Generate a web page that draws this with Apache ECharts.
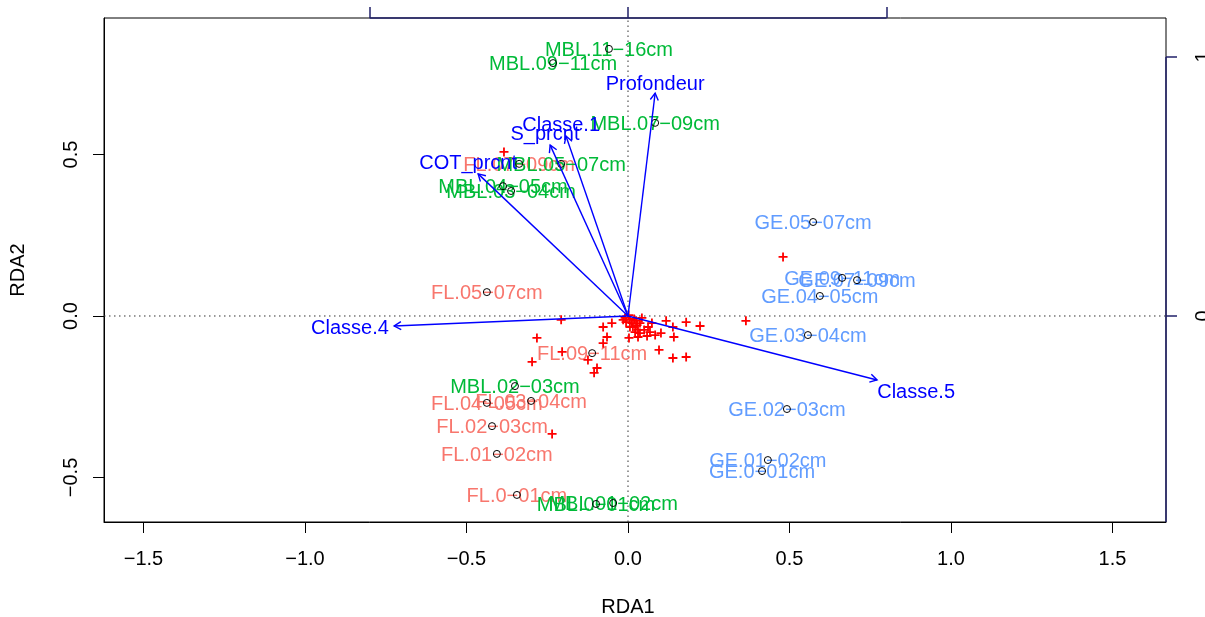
<!DOCTYPE html>
<html>
<head>
<meta charset="utf-8">
<script src="https://cdn.jsdelivr.net/npm/echarts/dist/echarts.min.js"></script>
<style>html,body{margin:0;padding:0;background:#fff}#chart{width:1205px;height:617px}</style>
</head>
<body>
<div id="chart"></div>
<script>
// ---------- data ----------
const flNames = ['FL.0−01cm','FL.01−02cm','FL.02−03cm','FL.03−04cm','FL.04−05cm','FL.05−07cm','FL.07−09cm','FL.09−11cm'];
const flX = [-0.344,-0.406,-0.421,-0.300,-0.437,-0.437,-0.337,-0.111];
const flY = [-0.554,-0.427,-0.341,-0.263,-0.269,0.074,0.471,-0.115];

const geNames = ['GE.0−01cm','GE.01−02cm','GE.02−03cm','GE.03−04cm','GE.04−05cm','GE.05−07cm','GE.07−09cm','GE.09−11cm'];
const geX = [0.415,0.433,0.492,0.557,0.594,0.573,0.709,0.663];
const geY = [-0.480,-0.446,-0.288,-0.059,0.062,0.291,0.111,0.118];

const mblNames = ['MBL.0−01cm','MBL.01−02cm','MBL.02−03cm','MBL.03−04cm','MBL.04−05cm','MBL.05−07cm','MBL.07−09cm','MBL.09−11cm','MBL.11−16cm'];
const mblX = [-0.099,-0.046,-0.350,-0.362,-0.387,-0.207,0.084,-0.232,-0.059];
const mblY = [-0.582,-0.579,-0.217,0.387,0.402,0.471,0.598,0.783,0.827];

const spX = [-0.384,0.480,0.365,-0.207,-0.282,-0.297,-0.204,-0.124,-0.096,-0.105,-0.235,-0.050,-0.077,-0.065,-0.077,-0.015,0.002,0.006,0.012,0.015,0.028,0.037,0.031,0.022,0.006,0.043,0.050,0.062,0.074,0.068,0.059,0.037,0.003,0.031,0.084,0.102,0.118,0.139,0.180,0.223,0.142,0.096,0.139,0.180,-0.009,0.019,-0.006,0.025];
const spY = [0.508,0.183,-0.015,-0.012,-0.068,-0.142,-0.111,-0.136,-0.161,-0.176,-0.365,-0.022,-0.034,-0.065,-0.084,-0.012,0.003,-0.012,-0.022,-0.034,-0.028,-0.022,-0.043,-0.050,-0.034,-0.006,-0.043,-0.034,-0.022,-0.050,-0.062,-0.053,-0.068,-0.065,-0.059,-0.053,-0.015,-0.034,-0.019,-0.031,-0.065,-0.105,-0.130,-0.127,-0.006,-0.009,-0.019,-0.015];

const envNames = ['Profondeur','Classe.1','S_prcnt','COT_prcnt','Classe.4','Classe.5'];
const envX = [0.084,-0.192,-0.241,-0.464,-0.724,0.771];
const envY = [0.690,0.557,0.529,0.440,-0.031,-0.198];
const envLabelX = [0.084,-0.207,-0.257,-0.495,-0.861,0.892];
const envLabelY = [0.721,0.595,0.567,0.477,-0.034,-0.232];

const xTicks = [-1.5,-1.0,-0.5,0,0.5,1.0,1.5];
const yTicks = [-0.5,0,0.5];
const topTicks = [-1,0,1];
const rightTicks = [0,1];

// ---------- chart ----------
const FF = '"Liberation Sans", Arial, Helvetica, sans-serif';
const FS = 20;
const NAVY = '#22226a';
const fmt1 = v => (v < 0 ? '−' : '') + Math.abs(v).toFixed(1);
const fmt0 = v => (v < 0 ? '−' : '') + Math.abs(v).toFixed(0);

const XMIN = -1.6223, XMAX = 1.6656, YMIN = -0.6378, YMAX = 0.9226;

function textSeries(names, xs, ys, color, z) {
  return {
    type: 'scatter', xAxisIndex: 0, yAxisIndex: 0, z: z, silent: true,
    symbol: 'circle', symbolSize: 1, itemStyle: {color: 'transparent', opacity: 1},
    data: xs.map((x, i) => [x, ys[i], names[i]]),
    label: {show: true, position: 'inside', offset: [0, 1.5], formatter: p => p.data[2],
      color: color, opacity: 1, fontSize: FS, fontFamily: FF},
    emphasis: {disabled: true}
  };
}

const circleData = []
  .concat(flX.map((x, i) => [x, flY[i]]))
  .concat(geX.map((x, i) => [x, geY[i]]))
  .concat(mblX.map((x, i) => [x, mblY[i]]));

function renderArrow(params, api) {
  const o = api.coord([0, 0]);
  const h = api.coord([api.value(0), api.value(1)]);
  const ang = Math.atan2(h[1] - o[1], h[0] - o[0]);
  const L = 8, a = Math.PI / 6;
  const p1 = [h[0] - L * Math.cos(ang - a), h[1] - L * Math.sin(ang - a)];
  const p2 = [h[0] - L * Math.cos(ang + a), h[1] - L * Math.sin(ang + a)];
  return {
    type: 'group',
    children: [
      {type: 'line', shape: {x1: o[0], y1: o[1], x2: h[0], y2: h[1]}, style: {stroke: '#0000FF', lineWidth: 1.4}},
      {type: 'polyline', shape: {points: [p1, h, p2]}, style: {stroke: '#0000FF', lineWidth: 1.4, fill: null}}
    ]
  };
}

const chart = echarts.init(document.getElementById('chart'), null, {renderer: 'canvas'});
chart.setOption({
  animation: false,
  backgroundColor: '#fff',
  grid: {left: 104, right: 39, top: 18, bottom: 95, containLabel: false, outerBoundsMode: 'none',
    show: true, borderColor: '#000', borderWidth: 1, backgroundColor: 'transparent'},
  xAxis: [
    {type: 'value', position: 'bottom', min: XMIN, max: XMAX,
      axisLine: {show: true, onZero: false, lineStyle: {color: '#000', width: 1}},
      splitLine: {show: false},
      axisTick: {show: true, length: 11, customValues: xTicks, lineStyle: {color: '#000', width: 1}},
      axisLabel: {customValues: xTicks, formatter: fmt1, margin: 27, fontSize: FS, color: '#000', fontFamily: FF}},
    {type: 'value', position: 'top', min: -2.027, max: 2.081,
      axisLine: {show: false, onZero: false},
      splitLine: {show: false},
      axisTick: {show: true, length: 11, customValues: topTicks, lineStyle: {color: NAVY, width: 1.5}},
      axisLabel: {show: false, customValues: topTicks, formatter: fmt0}}
  ],
  yAxis: [
    {type: 'value', position: 'left', min: YMIN, max: YMAX,
      axisLine: {show: true, onZero: false, lineStyle: {color: '#000', width: 1}},
      splitLine: {show: false},
      axisTick: {show: true, length: 11, customValues: yTicks, lineStyle: {color: '#000', width: 1}},
      axisLabel: {customValues: yTicks, formatter: fmt1, rotate: 90, margin: 23, fontSize: FS, color: '#000', fontFamily: FF}},
    {type: 'value', position: 'right', min: -0.7954, max: 1.1506,
      axisLine: {show: false, onZero: false},
      splitLine: {show: false},
      axisTick: {show: true, length: 11, customValues: rightTicks, lineStyle: {color: NAVY, width: 1.5}},
      axisLabel: {customValues: rightTicks, formatter: fmt0, rotate: 90, margin: 27, fontSize: FS, color: '#000', fontFamily: FF}}
  ],
  graphic: [
    {type: 'text', x: 628, y: 607, silent: true,
      style: {text: 'RDA1', fontSize: FS, fontFamily: FF, fill: '#000', align: 'center', verticalAlign: 'middle', textAlign: 'center', textVerticalAlign: 'middle'}},
    {type: 'text', x: 18, y: 270, rotation: Math.PI / 2, silent: true,
      style: {text: 'RDA2', fontSize: FS, fontFamily: FF, fill: '#000', align: 'center', verticalAlign: 'middle', textAlign: 'center', textVerticalAlign: 'middle'}}
  ],
  series: [
    // dotted zero lines
    {type: 'line', xAxisIndex: 0, yAxisIndex: 0, z: 1, silent: true, symbol: 'none',
      data: [[0, YMIN], [0, YMAX]], lineStyle: {color: '#333', width: 1, type: [1.5, 3.5]}},
    {type: 'line', xAxisIndex: 0, yAxisIndex: 0, z: 1, silent: true, symbol: 'none',
      data: [[XMIN, 0], [XMAX, 0]], lineStyle: {color: '#333', width: 1, type: [1.5, 3.5]}},
    // secondary axis lines (biplot scale)
    {type: 'line', xAxisIndex: 1, yAxisIndex: 0, z: 8, silent: true, symbol: 'none', clip: false,
      data: [[topTicks[0], YMAX], [topTicks[topTicks.length - 1], YMAX]], lineStyle: {color: NAVY, width: 1.5}},
    {type: 'line', xAxisIndex: 0, yAxisIndex: 1, z: 8, silent: true, symbol: 'none', clip: false,
      data: [[XMAX, -0.7954], [XMAX, rightTicks[rightTicks.length - 1]]], lineStyle: {color: NAVY, width: 1.5}},
    // site labels
    textSeries(flNames, flX, flY, '#F8766D', 2),
    textSeries(geNames, geX, geY, '#619CFF', 2),
    textSeries(mblNames, mblX, mblY, '#00BA38', 2),
    // species
    {type: 'scatter', xAxisIndex: 0, yAxisIndex: 0, z: 3, silent: true,
      symbol: 'path://M4,0H6V4H10V6H6V10H4V6H0V4H4Z', symbolSize: 9,
      itemStyle: {color: '#FF0000', opacity: 1},
      data: spX.map((x, i) => [x, spY[i]])},
    // site circles
    {type: 'scatter', xAxisIndex: 0, yAxisIndex: 0, z: 4, silent: true,
      symbol: 'circle', symbolSize: 7,
      itemStyle: {color: 'transparent', borderColor: '#000', borderWidth: 1, opacity: 1},
      data: circleData},
    // environmental arrows
    {type: 'custom', xAxisIndex: 0, yAxisIndex: 0, z: 5, silent: true,
      renderItem: renderArrow,
      data: envX.map((x, i) => [x, envY[i]])},
    textSeries(envNames, envLabelX, envLabelY, '#0000FF', 6)
  ]
});
</script>
</body>
</html>
